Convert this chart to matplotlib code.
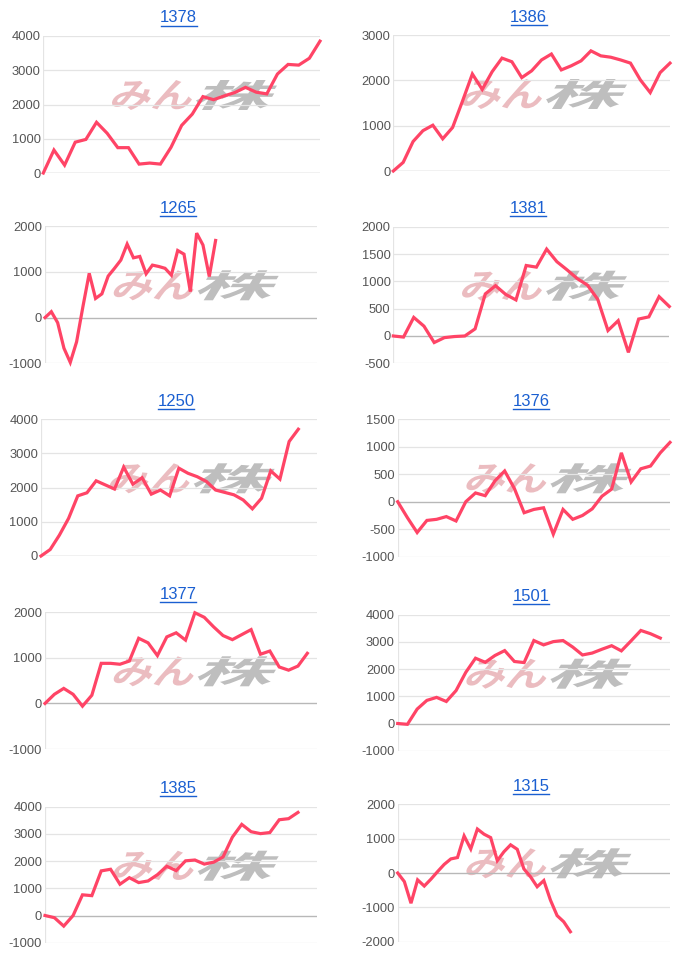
import matplotlib
matplotlib.use("Agg")
import matplotlib.pyplot as plt
from matplotlib.textpath import TextPath
from matplotlib.font_manager import FontProperties
from matplotlib.patches import PathPatch
from matplotlib.transforms import Affine2D
from matplotlib.lines import Line2D

plt.rcParams['font.family'] = ['Liberation Sans', 'DejaVu Sans']

# ---- data ----
titles = ["1378", "1386", "1265", "1381", "1250", "1376", "1377", "1501", "1385", "1315"]

s1378 = [0, 670, 230, 900, 980, 1480, 1160, 740, 740, 260, 290, 260, 750, 1390, 1720,
         2230, 2140, 2250, 2350, 2500, 2360, 2310, 2890, 3170, 3150, 3350, 3850]
s1386 = [0, 190, 650, 890, 1010, 710, 960, 1540, 2140, 1800, 2190, 2490, 2410, 2060, 2210,
         2450, 2580, 2230, 2320, 2430, 2650, 2540, 2510, 2450, 2380, 2010, 1730, 2170, 2380]
s1265 = [0, 130, -110, -670, -980, -530, 240, 970, 420, 520, 910, 1080, 1260, 1610, 1310,
         1340, 960, 1150, 1120, 1080, 930, 1470, 1390, 570, 1850, 1590, 900, 1690]
s1381 = [0, -20, 340, 180, -120, -30, -10, 0, 130, 770, 920, 760, 660, 1290, 1260, 1590,
         1360, 1210, 1050, 930, 670, 100, 280, -300, 310, 350, 720, 540]
s1250 = [0, 190, 610, 1100, 1760, 1850, 2200, 2080, 1960, 2600, 2100, 2290, 1810, 1930, 1760,
         2570, 2420, 2320, 2180, 1930, 1860, 1790, 1640, 1380, 1690, 2490, 2250, 3350, 3710]
s1376 = [0, -290, -560, -340, -320, -270, -350, 0, 160, 110, 380, 560, 240, -200, -140, -110,
         -590, -140, -320, -250, -130, 100, 230, 890, 360, 600, 650, 890, 1080]
s1377 = [0, 200, 330, 200, -60, 180, 880, 880, 860, 930, 1430, 1330, 1050, 1460, 1550, 1390,
         1990, 1890, 1680, 1490, 1400, 1510, 1620, 1080, 1150, 800, 730, 820, 1100]
s1501 = [0, -30, 530, 850, 960, 810, 1210, 1880, 2400, 2250, 2500, 2680, 2280, 2240, 3050,
         2890, 3010, 3050, 2810, 2520, 2590, 2730, 2860, 2670, 3040, 3420, 3300, 3140]
s1385 = [0, -80, -390, 0, 760, 730, 1640, 1700, 1150, 1390, 1210, 1270, 1500, 1810, 1650,
         2010, 2040, 1890, 1960, 2150, 2880, 3350, 3080, 3010, 3050, 3520, 3560, 3790]
s1315 = [0, -250, -880, -200, -380, -180, 40, 250, 410, 450, 1080, 700, 1280, 1130, 1030, 360,
         620, 820, 690, 120, -110, -400, -220, -790, -1240, -1420, -1710]

series = [s1378, s1386, s1265, s1381, s1250, s1376, s1377, s1501, s1385, s1315]
x_slots = [26, 28, 43, 27, 30, 28, 29, 28, 29, 41]
y_ticks = [
    [0, 1000, 2000, 3000, 4000],
    [0, 1000, 2000, 3000],
    [-1000, 0, 1000, 2000],
    [-500, 0, 500, 1000, 1500, 2000],
    [0, 1000, 2000, 3000, 4000],
    [-1000, -500, 0, 500, 1000, 1500],
    [-1000, 0, 1000, 2000],
    [-1000, 0, 1000, 2000, 3000, 4000],
    [-1000, 0, 1000, 2000, 3000, 4000],
    [-2000, -1000, 0, 1000, 2000],
]

# ---- layout (pixel boxes: left, right, top, bottom) ----
W, H = 700, 965
boxes = [
    (43.3, 320.0, 36.0, 173.0),
    (393.3, 670.0, 35.0, 171.0),
    (45.0, 316.7, 226.3, 363.3),
    (393.3, 669.3, 226.7, 363.3),
    (41.0, 316.7, 419.3, 556.0),
    (397.7, 670.0, 419.3, 556.7),
    (45.0, 316.7, 612.3, 749.0),
    (397.7, 670.0, 614.7, 750.7),
    (45.0, 316.7, 806.7, 942.7),
    (397.7, 670.0, 804.3, 941.7),
]

LINE = "#ff4466"
GRID = "#e4e4e4"
BASE = "#b8b8b8"
TICK = "#555555"
LINK = "#1a5fd1"

fig = plt.figure(figsize=(W / 100, H / 100), dpi=100)
fig.patch.set_facecolor("white")

jp = FontProperties(family="Noto Sans CJK JP", weight="bold")


def logo_part(text, color, px0, px1, py0, py1, alpha):
    tp = TextPath((0, 0), text, size=50, prop=jp)
    ext = tp.get_extents()
    skew = Affine2D().translate(-ext.x0, -ext.y0).skew_deg(14, 0)
    p2 = skew.transform_path(tp)
    e2 = p2.get_extents()
    tr = (Affine2D()
          .translate(-e2.x0, -e2.y0)
          .scale((px1 - px0) / e2.width / W, (py1 - py0) / e2.height / H)
          .translate(px0 / W, 1 - py1 / H))
    patch = PathPatch(p2, transform=tr + fig.transFigure, facecolor=color,
                      edgecolor="none", alpha=alpha, zorder=0)
    fig.patches.append(patch)


for i, (title, ys, xs, ticks, box) in enumerate(zip(titles, series, x_slots, y_ticks, boxes)):
    l, r, t, b = box
    ax = fig.add_axes([l / W, 1 - b / H, (r - l) / W, (b - t) / H])
    ax.set_facecolor("none")
    ax.set_zorder(2)
    xs_vals = list(range(len(ys)))
    ax.plot(xs_vals, ys, color=LINE, lw=2.3, solid_joinstyle="miter", zorder=3, clip_on=False)
    ax.set_xlim(0, xs)
    ax.set_ylim(ticks[0], ticks[-1])
    ax.set_yticks(ticks)
    ax.set_yticklabels([str(v) for v in ticks])
    ax.set_xticks([])
    for v in ticks:
        ax.axhline(v, color=BASE if v == 0 else GRID, lw=1.0 if v == 0 else 0.9, zorder=1)
    for s in ax.spines.values():
        s.set_visible(False)
    ax.axvline(0, color=GRID, lw=0.9, zorder=1)
    ax.tick_params(axis="y", length=0, pad=2, labelsize=9.3, labelcolor=TICK)

    # title with underline
    cx = (l + r) / 2 - 3
    ty = t - 18
    fig.text(cx / W, 1 - ty / H, title, ha="center", va="center",
             fontsize=12, color=LINK)
    fig.add_artist(Line2D([(cx - 18) / W, (cx + 18) / W],
                          [1 - (ty + 7.5) / H, 1 - (ty + 7.5) / H],
                          color=LINK, lw=1.0))

    # watermark logo
    dx = l - 43.3
    dy = t - 36.0
    logo_part("みん", "#e3a0a6", 112 + dx, 192 + dx, 80 + dy, 110 + dy, 0.7)
    logo_part("株", "#a8a8a8", 196 + dx, 277 + dx, 80 + dy, 110 + dy, 0.75)

fig.savefig("out.png", dpi=100, facecolor="white")
